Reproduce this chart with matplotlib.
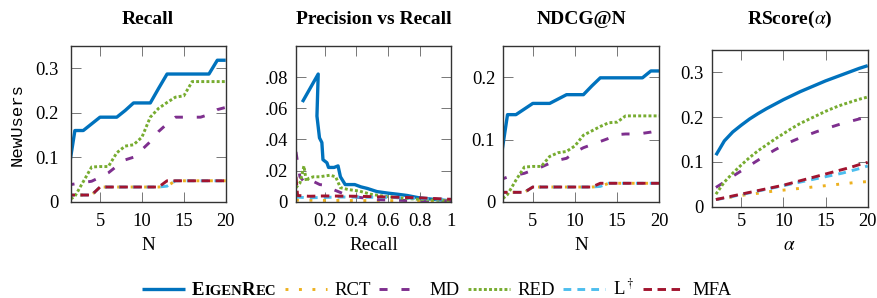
import matplotlib
matplotlib.use('Agg')
import matplotlib.pyplot as plt
from matplotlib.ticker import FixedLocator, FixedFormatter
from matplotlib.offsetbox import TextArea, HPacker

plt.rcParams['font.family'] = ['Liberation Serif', 'DejaVu Serif']
plt.rcParams['mathtext.fontset'] = 'stix'
plt.rcParams['lines.scale_dashes'] = False

# ---------------- data ----------------
N = [1, 2, 3, 4, 5, 6, 7, 8, 9, 10, 11, 12, 13, 14, 15, 16, 17, 18, 19, 20]
alpha = [2, 3, 4, 5, 6, 7, 8, 9, 10, 11, 12, 13, 14, 15, 16, 17, 18, 19, 20]

methods = ['EigenRec', 'RCT', 'MD', 'RED', r'L$^\dagger$', 'MFA']

recall_eigenrec = [0.04, 0.16, 0.16, 0.175, 0.19, 0.19, 0.19, 0.205, 0.222, 0.222, 0.222, 0.255, 0.287, 0.287, 0.287, 0.287, 0.287, 0.287, 0.318, 0.318]
recall_rct = [0.015, 0.015, 0.015, 0.015, 0.033, 0.033, 0.033, 0.033, 0.033, 0.033, 0.033, 0.033, 0.035, 0.047, 0.047, 0.047, 0.047, 0.047, 0.047, 0.047]
recall_md = [0.037, 0.04, 0.043, 0.046, 0.055, 0.065, 0.08, 0.094, 0.1, 0.117, 0.135, 0.158, 0.175, 0.19, 0.19, 0.19, 0.19, 0.196, 0.207, 0.212]
recall_red = [0.0, 0.012, 0.045, 0.078, 0.079, 0.079, 0.11, 0.125, 0.128, 0.145, 0.19, 0.21, 0.223, 0.235, 0.238, 0.27, 0.27, 0.27, 0.27, 0.27]
recall_ldag = [0.015, 0.015, 0.015, 0.015, 0.033, 0.033, 0.033, 0.033, 0.033, 0.033, 0.033, 0.033, 0.035, 0.047, 0.047, 0.047, 0.047, 0.047, 0.047, 0.047]
recall_mfa = [0.015, 0.015, 0.015, 0.015, 0.033, 0.033, 0.033, 0.033, 0.033, 0.033, 0.033, 0.033, 0.047, 0.047, 0.047, 0.047, 0.047, 0.047, 0.047, 0.047]

ndcg_eigenrec = [0.05, 0.14, 0.14, 0.149, 0.158, 0.158, 0.158, 0.165, 0.172, 0.172, 0.172, 0.186, 0.199, 0.199, 0.199, 0.199, 0.199, 0.199, 0.21, 0.21]
ndcg_rct = [0.0155, 0.0155, 0.0155, 0.0155, 0.024, 0.024, 0.024, 0.024, 0.024, 0.024, 0.024, 0.024, 0.025, 0.03, 0.03, 0.03, 0.03, 0.03, 0.03, 0.03]
ndcg_md = [0.035, 0.04, 0.043, 0.046, 0.051, 0.056, 0.062, 0.067, 0.07, 0.08, 0.087, 0.092, 0.097, 0.102, 0.108, 0.109, 0.109, 0.11, 0.112, 0.115]
ndcg_red = [0.0, 0.012, 0.035, 0.056, 0.057, 0.057, 0.073, 0.079, 0.081, 0.09, 0.107, 0.114, 0.121, 0.127, 0.128, 0.138, 0.138, 0.138, 0.138, 0.138]
ndcg_ldag = [0.0155, 0.0155, 0.0155, 0.0155, 0.024, 0.024, 0.024, 0.024, 0.024, 0.024, 0.024, 0.024, 0.025, 0.03, 0.03, 0.03, 0.03, 0.03, 0.03, 0.03]
ndcg_mfa = [0.0155, 0.0155, 0.0155, 0.0155, 0.024, 0.024, 0.024, 0.024, 0.024, 0.024, 0.024, 0.024, 0.03, 0.03, 0.03, 0.03, 0.03, 0.03, 0.03, 0.03]

rscore_eigenrec = [0.115, 0.147, 0.167, 0.182, 0.196, 0.208, 0.219, 0.229, 0.239, 0.248, 0.257, 0.265, 0.273, 0.281, 0.288, 0.295, 0.302, 0.309, 0.315]
rscore_rct = [0.016, 0.019, 0.022, 0.025, 0.028, 0.030, 0.033, 0.035, 0.037, 0.039, 0.041, 0.043, 0.045, 0.047, 0.049, 0.051, 0.053, 0.055, 0.056]
rscore_md = [0.043, 0.055, 0.068, 0.08, 0.092, 0.104, 0.116, 0.127, 0.137, 0.146, 0.154, 0.161, 0.168, 0.174, 0.18, 0.186, 0.191, 0.196, 0.2]
rscore_red = [0.028, 0.055, 0.075, 0.093, 0.11, 0.125, 0.138, 0.151, 0.163, 0.175, 0.186, 0.195, 0.204, 0.213, 0.221, 0.228, 0.234, 0.24, 0.245]
rscore_ldag = [0.016, 0.019, 0.023, 0.027, 0.031, 0.035, 0.039, 0.043, 0.047, 0.051, 0.055, 0.059, 0.063, 0.067, 0.071, 0.075, 0.08, 0.085, 0.091]
rscore_mfa = [0.016, 0.02, 0.024, 0.028, 0.032, 0.036, 0.04, 0.044, 0.048, 0.053, 0.058, 0.063, 0.068, 0.073, 0.078, 0.083, 0.088, 0.094, 0.099]

pr_recall_eigenrec = [0.06, 0.16, 0.152, 0.168, 0.183, 0.19, 0.215, 0.225, 0.26, 0.285, 0.3, 0.33, 0.39, 0.43, 0.47, 0.53, 0.6, 0.66, 0.72, 0.8, 0.9, 1.0]
pr_prec_eigenrec = [0.064, 0.082, 0.055, 0.041, 0.038, 0.027, 0.025, 0.022, 0.022, 0.023, 0.016, 0.011, 0.011, 0.0095, 0.0085, 0.0065, 0.0055, 0.0048, 0.004, 0.0024, 0.0014, 0.0005]
pr_recall_rct = [0.02, 0.2, 0.5, 0.8, 1.0]
pr_prec_rct = [0.001, 0.0008, 0.0007, 0.0006, 0.0005]
pr_recall_md = [0.02, 0.03, 0.045, 0.07, 0.1, 0.13, 0.17, 0.21, 0.25, 0.31, 0.4, 0.55, 0.7, 0.85, 1.0]
pr_prec_md = [0.032, 0.025, 0.016, 0.013, 0.011, 0.013, 0.011, 0.0105, 0.008, 0.0055, 0.003, 0.0012, 0.0008, 0.0005, 0.0003]
pr_recall_red = [0.02, 0.045, 0.07, 0.085, 0.1, 0.13, 0.17, 0.2, 0.235, 0.27, 0.3, 0.35, 0.42, 0.49, 0.59, 0.7, 0.8, 0.9, 1.0]
pr_prec_red = [0.009, 0.012, 0.023, 0.013, 0.015, 0.016, 0.016, 0.0165, 0.017, 0.016, 0.009, 0.0078, 0.0068, 0.0048, 0.0033, 0.0022, 0.0015, 0.001, 0.0006]
pr_recall_ldag = [0.02, 0.1, 0.3, 0.6, 0.8, 1.0]
pr_prec_ldag = [0.003, 0.0025, 0.003, 0.0028, 0.002, 0.0015]
pr_recall_mfa = [0.02, 0.03, 0.1, 0.2, 0.4, 0.6, 0.8, 1.0]
pr_prec_mfa = [0.016, 0.004, 0.0035, 0.0037, 0.0035, 0.003, 0.0025, 0.0015]

# ---------------- styles ----------------
colors = ['#0072BD', '#EDB120', '#7E2F8E', '#77AC30', '#4DBEEE', '#A2142F']
styles = [
    dict(lw=2.4, linestyle='-'),
    dict(lw=2.1, dashes=(2.1, 7.6)),
    dict(lw=2.1, dashes=(5.8, 10.0)),
    dict(lw=2.1, dashes=(2.1, 1.6)),
    dict(lw=2.1, dashes=(5.6, 4.4)),
    dict(lw=2.1, dashes=(6.1, 4.0)),
]

W, H = 878, 298
fig = plt.figure(figsize=(W / 100, H / 100), dpi=100)


def add_ax(l, t, r, b):
    return fig.add_axes([l / W, 1 - b / H, (r - l) / W, (b - t) / H])


boxes = [(70.7, 46, 225.7, 201.7), (296, 46, 451.5, 201.7),
         (503.3, 46, 659.3, 202), (711.7, 50, 867.7, 206.7)]
axes = [add_ax(*b) for b in boxes]

FS = 13.3
panels = [
    (N, [recall_eigenrec, recall_rct, recall_md, recall_red, recall_ldag, recall_mfa]),
    None,
    (N, [ndcg_eigenrec, ndcg_rct, ndcg_md, ndcg_red, ndcg_ldag, ndcg_mfa]),
    (alpha, [rscore_eigenrec, rscore_rct, rscore_md, rscore_red, rscore_ldag, rscore_mfa]),
]
pr_x = [pr_recall_eigenrec, pr_recall_rct, pr_recall_md, pr_recall_red, pr_recall_ldag, pr_recall_mfa]
pr_y = [pr_prec_eigenrec, pr_prec_rct, pr_prec_md, pr_prec_red, pr_prec_ldag, pr_prec_mfa]

handles = []
for i, ax in enumerate(axes):
    for k in range(6):
        if i == 1:
            xs, ys = pr_x[k], pr_y[k]
        else:
            xs, ys = panels[i][0], panels[i][1][k]
        ln, = ax.plot(xs, ys, color=colors[k], label=methods[k],
                      solid_capstyle='butt', dash_capstyle='butt', **styles[k])
        if i == 0:
            handles.append(ln)

# limits and ticks
for i in (0, 2, 3):
    axes[i].set_xlim(1.5, 20)
    axes[i].xaxis.set_major_locator(FixedLocator([5, 10, 15, 20]))
    axes[i].xaxis.set_major_formatter(FixedFormatter(['5', '10', '15', '20']))
axes[0].set_ylim(0, 0.35)
axes[0].yaxis.set_major_locator(FixedLocator([0, 0.1, 0.2, 0.3]))
axes[0].yaxis.set_major_formatter(FixedFormatter(['0', '0.1', '0.2', '0.3']))
axes[3].set_ylim(0, 0.35)
axes[3].yaxis.set_major_locator(FixedLocator([0, 0.1, 0.2, 0.3]))
axes[3].yaxis.set_major_formatter(FixedFormatter(['0', '0.1', '0.2', '0.3']))
axes[2].set_ylim(0, 0.25)
axes[2].yaxis.set_major_locator(FixedLocator([0, 0.1, 0.2]))
axes[2].yaxis.set_major_formatter(FixedFormatter(['0', '0.1', '0.2']))
axes[1].set_xlim(0.02, 1.0)
axes[1].set_ylim(0, 0.1)
axes[1].xaxis.set_major_locator(FixedLocator([0.2, 0.4, 0.6, 0.8, 1.0]))
axes[1].xaxis.set_major_formatter(FixedFormatter(['0.2', '0.4', '0.6', '0.8', '1']))
axes[1].yaxis.set_major_locator(FixedLocator([0, 0.02, 0.04, 0.06, 0.08]))
axes[1].yaxis.set_major_formatter(FixedFormatter(['0', '.02', '.04', '.06', '.08']))

for i, ax in enumerate(axes):
    for s in ax.spines.values():
        s.set_linewidth(1.0)
        s.set_color('#333333')
    ax.tick_params(direction='in', top=True, right=True, length=7.5, width=0.7,
                   color='#777777', labelsize=FS, labelcolor='black')
    ax.tick_params(axis='x', pad=4.5 if i == 3 else 8.0)
    ax.tick_params(axis='y', pad=8.6 if i == 0 else 5.8)

# titles and axis labels
titles = ['Recall', 'Precision vs Recall', 'NDCG@N', r'RScore($\alpha$)']
xlabels = ['N', 'Recall', 'N', r'$\alpha$']
for i, b in enumerate(boxes):
    cx = (b[0] + b[2]) / 2 / W
    fig.text(cx, 1 - 24 / H, titles[i], ha='center', va='baseline',
             fontsize=14, fontweight='bold')
    fig.text(cx, 1 - 250 / H, xlabels[i], ha='center', va='baseline', fontsize=FS + 0.5)
fig.text(17.5 / W, 1 - 124 / H, 'NewUsers', rotation=90, ha='center', va='center',
         fontsize=12.5, family='Liberation Mono')

# legend
leg = fig.legend(handles=handles, labels=methods, loc='center', ncol=6,
                 bbox_to_anchor=(437 / W, 1 - 289 / H), frameon=False,
                 fontsize=13.5, handlelength=2.25, handletextpad=0.4,
                 columnspacing=0.45, borderpad=0, borderaxespad=0)

# small caps bold "EigenRec"
try:
    for col in leg._legend_handle_box.get_children():
        for item in col.get_children():
            ch = item.get_children()
            if len(ch) > 1 and isinstance(ch[1], TextArea) and ch[1]._text.get_text() == 'EigenRec':
                parts = [('E', 13.5), ('IGEN', 10.6), ('R', 13.5), ('EC', 10.6)]
                tas = [TextArea(s, textprops=dict(fontsize=fs, fontweight='bold',
                                                  family='Liberation Serif'))
                       for s, fs in parts]
                sc = HPacker(children=tas, align='baseline', pad=0, sep=0)
                sc.set_figure(fig)
                item._children[1] = sc
except Exception:
    pass

fig.savefig('out.png', dpi=100)
